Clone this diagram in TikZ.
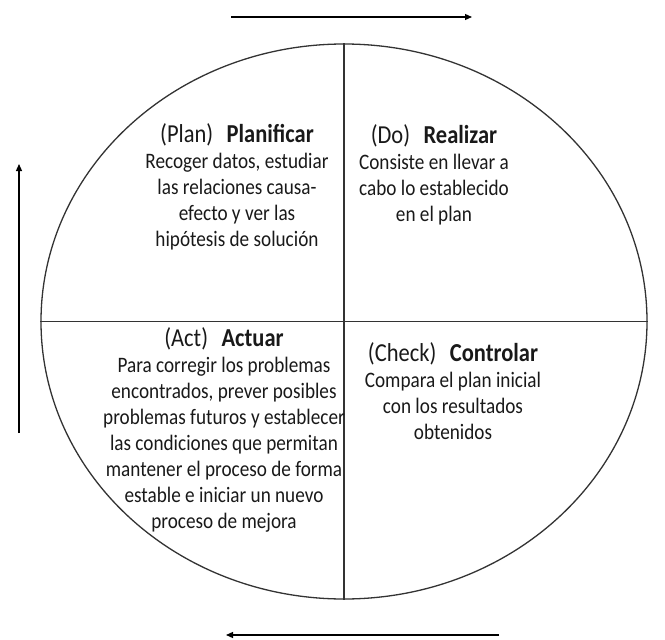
\documentclass[tikz,border=0pt]{standalone}
\usepackage{fontspec}
\setmainfont{Carlito}
\usetikzlibrary{shapes.geometric,arrows.meta}
\newcommand{\phtitle}[2]{{\fontsize{22.5}{22.6}\selectfont #1\hspace{0.6em}\textbf{#2}}}
\newcommand{\phtext}[1]{\scalebox{1}[1.15]{\begin{tabular}{@{}c@{}}#1\end{tabular}}}
\begin{document}
\begin{tikzpicture}[x=1pt,y=-1pt,
  outline/.style={draw=black!80,line width=1.3pt},
  flow/.style={draw=black,line width=1.2pt,-{Triangle[length=7pt,width=6pt]}},
  phase/.style={align=center,inner sep=0pt,text=black!90,font=\fontsize{19.2}{22.6}\selectfont}]
\useasboundingbox (0,0) rectangle (665,640);
\node[ellipse,outline,minimum width=606pt,minimum height=555pt,inner sep=0pt] (circ) at (344,321.5) {};
\draw[outline] (circ.north) -- (circ.south);
\draw[outline] (circ.west) -- (circ.east);
\node[phase] (plan) at (237,188.5) {\phtext{\phtitle{(Plan)}{Planificar}\\Recoger datos, estudiar\\las relaciones causa-\\efecto y ver las\\hipótesis de solución}};
\node[phase] (do) at (434,177) {\phtext{\phtitle{(Do)}{Realizar}\\Consiste en llevar a\\cabo lo establecido\\en el plan}};
\node[phase] (act) at (224,432) {\phtext{\phtitle{(Act)}{Actuar}\\Para corregir los problemas\\encontrados, prever posibles\\problemas futuros y establecer\\las condiciones que permitan\\mantener el proceso de forma\\estable e iniciar un nuevo\\proceso de mejora}};
\node[phase] (check) at (453,395) {\phtext{\phtitle{(Check)}{Controlar}\\Compara el plan inicial\\con los resultados\\obtenidos}};
\coordinate (ta) at (231,17);
\coordinate (tb) at (472,17);
\coordinate (ba) at (499,635);
\coordinate (bb) at (226,635);
\coordinate (la) at (19,433);
\coordinate (lb) at (19,164);
\draw[flow] (ta) -- (tb);
\draw[flow] (ba) -- (bb);
\draw[flow] (la) -- (lb);
\end{tikzpicture}
\end{document}
